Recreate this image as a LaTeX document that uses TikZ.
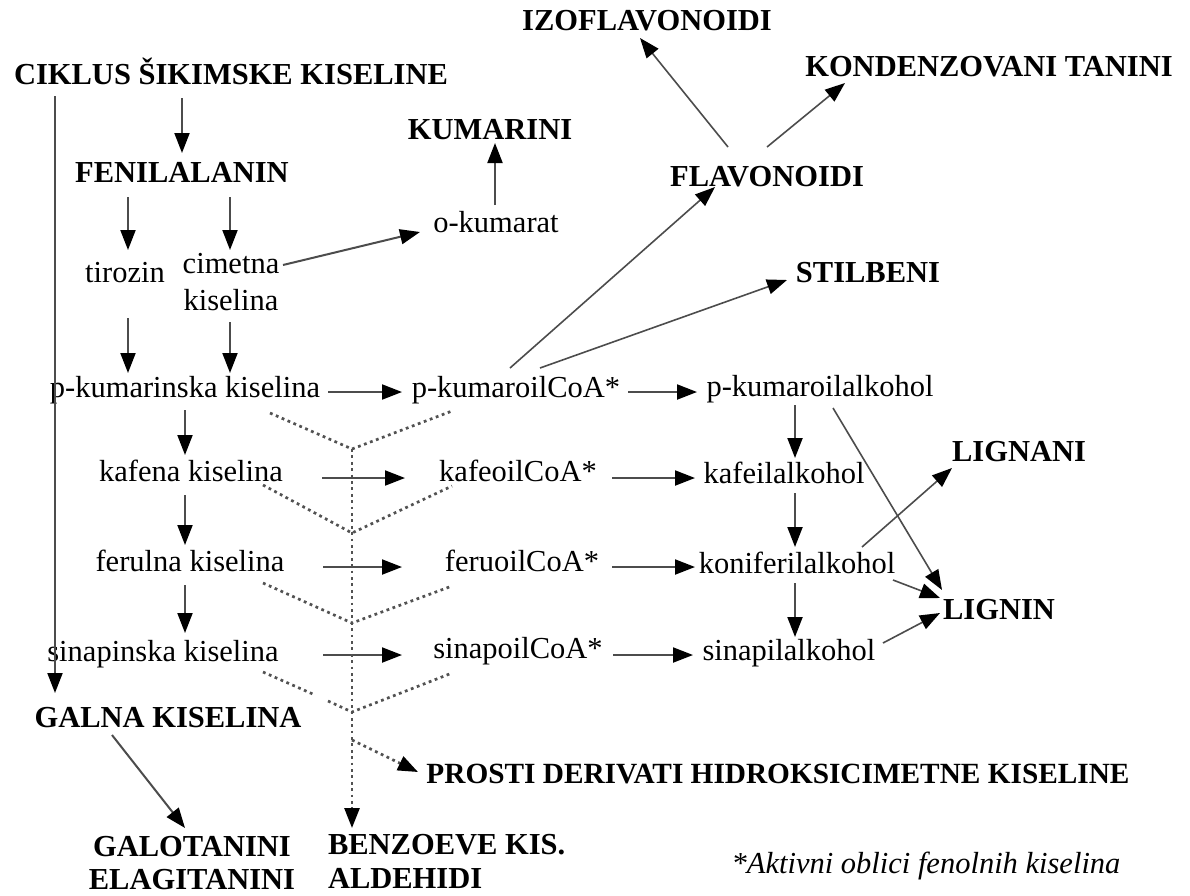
\documentclass[tikz,border=0pt]{standalone}
\usepackage{fontspec}
\setmainfont{Liberation Serif}
\usetikzlibrary{arrows.meta,calc}
\begin{document}
\begin{tikzpicture}[x=1pt,y=-1pt,
  every node/.style={inner sep=0pt, outer sep=0pt, font=\fontsize{30.5}{36}\selectfont},
  lbl/.style={anchor=base},
  hd/.style={anchor=base, font=\fontsize{30.5}{36}\selectfont\bfseries},
  tip/.style={-{Triangle[length=20pt,width=15pt,color=black]}},
  arr/.style={draw=black!70, line width=2pt, tip},
  thinarr/.style={arr, line width=1.6pt},
  dot/.style={draw=black!68, line width=2.7pt, dash pattern=on 2.8pt off 3.6pt},
  darr/.style={dot, tip}
]
\useasboundingbox (0,0) rectangle (1190,895);

% ---- headings and compounds ----
\node[hd] (ciklus) at (231,84) {CIKLUS ŠIKIMSKE KISELINE};
\node[hd] (izo) at (647,30) {IZOFLAVONOIDI};
\node[hd] (kond) at (989,76) {KONDENZOVANI TANINI};
\node[hd] (kum) at (490,139) {KUMARINI};
\node[hd] (fen) at (182,182) {FENILALANIN};
\node[hd] (flav) at (767,186) {FLAVONOIDI};
\node[lbl] (okum) at (496,232) {o-kumarat};
\node[lbl] (tir) at (125,282) {tirozin};
\node[align=center, font=\fontsize{30.5}{37}\selectfont] (cim) at (231,282) {cimetna\\kiselina};
\node[hd] (stil) at (868,282) {STILBENI};

\node[lbl] (pkk) at (185,397) {p-kumarinska kiselina};
\node[lbl] (pkc) at (516,397) {p-kumaroilCoA*};
\node[lbl] (pka) at (820,396) {p-kumaroilalkohol};
\node[hd] (lignani) at (1019,461) {LIGNANI};
\node[lbl] (kaf) at (191,481) {kafena kiselina};
\node[lbl] (kafc) at (518,481) {kafeoilCoA*};
\node[lbl] (kafa) at (784,483) {kafeilalkohol};
\node[lbl] (fer) at (190,571) {ferulna kiselina};
\node[lbl] (ferc) at (522,571) {feruoilCoA*};
\node[lbl] (kon) at (797,573) {koniferilalkohol};
\node[hd] (lignin) at (999,619) {LIGNIN};
\node[lbl] (sin) at (163,661) {sinapinska kiselina};
\node[lbl] (sinc) at (518,658) {sinapoilCoA*};
\node[lbl] (sina) at (789,660) {sinapilalkohol};
\node[hd] (galna) at (168,727) {GALNA KISELINA};
\node[hd, font=\fontsize{29.3}{36}\selectfont\bfseries] (prosti) at (778,783) {PROSTI DERIVATI HIDROKSICIMETNE KISELINE};
\node[align=center, font=\fontsize{30.5}{33}\selectfont\bfseries] (galo) at (192,863) {GALOTANINI\\ELAGITANINI};
\node[align=left, anchor=west, font=\fontsize{30.5}{34}\selectfont\bfseries] (benz) at (328,861) {BENZOEVE KIS.\\ALDEHIDI};
\node[lbl, font=\fontsize{30.5}{36}\selectfont\itshape] (note) at (926,873) {*Aktivni oblici fenolnih kiselina};

% ---- solid reaction arrows ----
\draw[arr] ($(ciklus.base)+(-176,12)$) -- ($(galna.base)+(-113,-34)$);
\draw[arr] ($(ciklus.base)+(-49,14)$) -- ($(fen.base)+(0,-29)$);
\draw[arr] ($(fen.base)+(-54,15)$) -- ($(tir.base)+(3,-32)$);
\draw[arr] ($(fen.base)+(48,15)$) -- ($(cim.center)+(-1,-32)$);
\draw[arr] ($(cim.center)+(52,-17)$) -- ($(okum.base)+(-76,0)$);
\draw[arr] ($(okum.base)+(-1,-27)$) -- ($(kum.base)+(5,4)$);
\draw[arr] ($(tir.base)+(3,36)$) -- ($(pkk.base)+(-57,-24)$);
\draw[arr] ($(cim.center)+(-1,40)$) -- ($(pkk.base)+(45,-24)$);
\draw[arr] ($(pkk.base)+(143,-5)$) -- ($(pkc.base)+(-114,-5)$);
\draw[thinarr] ($(pkc.base)+(-6,-29)$) -- ($(flav.base)+(-52,1)$);
\draw[thinarr] ($(pkc.base)+(24,-29)$) -- ($(stil.base)+(-81,-2)$);
\draw[thinarr] ($(flav.base)+(-39,-39)$) -- ($(izo.base)+(-7,8)$);
\draw[thinarr] ($(flav.base)+(0,-39)$) -- ($(kond.base)+(-144,7)$);
\draw[arr] ($(pkc.base)+(112,-5)$) -- ($(pka.base)+(-123,-4)$);

\draw[arr] ($(pkk.base)+(0,13)$) -- ($(kaf.base)+(-6,-26)$);
\draw[arr] ($(kaf.base)+(-6,14)$) -- ($(fer.base)+(-5,-26)$);
\draw[arr] ($(fer.base)+(-5,14)$) -- ($(sin.base)+(22,-28)$);
\draw[arr] ($(kaf.base)+(131,-3)$) -- ($(kafc.base)+(-113,-3)$);
\draw[arr] ($(fer.base)+(133,-4)$) -- ($(ferc.base)+(-120,-4)$);
\draw[arr] ($(sin.base)+(160,-6)$) -- ($(sinc.base)+(-116,-3)$);
\draw[arr] ($(kafc.base)+(94,-3)$) -- ($(kafa.base)+(-89,-5)$);
\draw[arr] ($(ferc.base)+(90,-4)$) -- ($(kon.base)+(-102,-6)$);
\draw[arr] ($(sinc.base)+(95,-3)$) -- ($(sina.base)+(-96,-5)$);

\draw[arr] ($(pka.base)+(-25,9)$) -- ($(kafa.base)+(11,-25)$);
\draw[arr] ($(kafa.base)+(11,10)$) -- ($(kon.base)+(-2,-26)$);
\draw[arr] ($(kon.base)+(-2,10)$) -- ($(sina.base)+(6,-23)$);
\draw[thinarr] ($(pka.base)+(13,12)$) -- ($(lignin.base)+(-57,-29)$);
\draw[thinarr] ($(kon.base)+(65,-26)$) -- ($(lignani.base)+(-67,7)$);
\draw[thinarr] ($(kon.base)+(96,7)$) -- ($(lignin.base)+(-59,-21)$);
\draw[thinarr] ($(sina.base)+(94,-17)$) -- ($(lignin.base)+(-59,-6)$);
\draw[arr] ($(galna.base)+(-56,8)$) -- ($(galo.center)+(-7,-35)$);

% ---- dotted side routes to benzoic acids ----
\coordinate (j1) at (352,449);
\coordinate (j2) at (352,533);
\coordinate (j3) at (352,623);
\coordinate (j4) at (352,712);
\coordinate (j5) at (352,740);
\coordinate (a1) at (270,413); \coordinate (b1) at (452,411);
\coordinate (a2) at (263,485); \coordinate (b2) at (452,486);
\coordinate (a3) at (263,583); \coordinate (b3) at (452,586);
\coordinate (a4) at (263,672); \coordinate (m4) at (315,695);
\coordinate (n4) at (328,701); \coordinate (b4) at (452,673);

\draw[dot] (a1) -- (j1) -- (b1);
\draw[dot] (a2) -- (j2) -- (b2);
\draw[dot] (a3) -- (j3) -- (b3);
\draw[dot] (a4) -- (m4);
\draw[dot] (n4) -- (j4) -- (b4);
\draw[darr] (j1) -- ($(benz.west)+(24,-33)$);
\draw[darr] (j5) -- ($(prosti.base)+(-360,-11)$);
\end{tikzpicture}
\end{document}
